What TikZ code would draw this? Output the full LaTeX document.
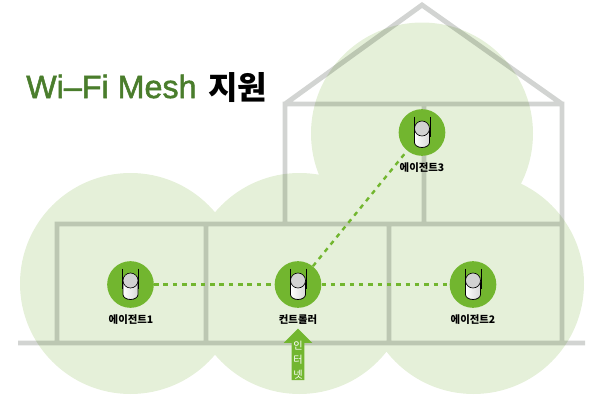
\documentclass[tikz,border=0pt]{standalone}
\usepackage{fontspec}
\setmainfont{Liberation Sans}
\newfontfamily\cjk{Noto Sans CJK KR}
\newfontfamily\titlefont[FakeBold=1.6]{Liberation Sans}
\usetikzlibrary{shapes.arrows}
\definecolor{zone}{HTML}{E5F0D9}
\definecolor{wall}{HTML}{D2D4D2}
\definecolor{mesh}{HTML}{72B62F}
\definecolor{titlegreen}{HTML}{4A7D2C}
\tikzset{
  device/.style={circle,fill=mesh,minimum size=35pt,inner sep=0pt},
  devlabel/.style={inner sep=0pt,font=\cjk\bfseries\fontsize{7.8}{9}\selectfont},
  link/.style={draw=mesh,line width=1.8pt,dash pattern=on 3.4pt off 3.6pt},
  repeater/.pic={
    \draw[black,line width=0.6pt,left color=white,right color=gray!30]
      (-7.5,-4) -- (-7.5,10) arc (180:0:7.5 and 5) -- (7.5,-4) -- cycle;
    \draw[black,line width=0.5pt,fill=gray!35] (0,-4) ellipse (7.5 and 7.5);
    \draw[black,line width=0.7pt] (-8,-16) -- (-8,4) (8,-16) -- (8,4);
  }
}
\begin{document}
\begin{tikzpicture}[x=0.75pt,y=-0.75pt]
\useasboundingbox (0,0) rectangle (600,400);
% coverage
\fill[zone] (130.5,283.5) circle (110.5) (299.5,283.5) circle (110.5)
  (473.5,283.5) circle (110.5) (422,133.5) circle (111);
% house
\draw[wall,line width=3.7pt,line join=miter,blend mode=multiply]
  (18,343) -- (585,343)
  (57,343) -- (57,224) -- (562,224)
  (206,224) -- (206,343) (389,224) -- (389,343)
  (562,343) -- (562,104) -- (285,104) -- (285,224)
  (424,104) -- (424,224)
  (285,104) -- (422,5) -- (562,104);
% devices
\node[device] (ctrl) at (298,284.5) {};
\node[device] (agent1) at (130.5,284.5) {};
\node[device] (agent2) at (473,284.5) {};
\node[device] (agent3) at (422,132.5) {};
\path[link] (agent1) -- (ctrl);
\path[link] (ctrl) -- (agent2);
\path[link] (ctrl) -- (agent3);
\pic at (ctrl) {repeater};
\pic at (agent1) {repeater};
\pic at (agent2) {repeater};
\pic at (agent3) {repeater};
\node[devlabel] (ctrllabel) at (298,320) {컨트롤러};
\node[devlabel] (agent1label) at (131,320) {에이전트1};
\node[devlabel] (agent2label) at (473,320) {에이전트2};
\node[devlabel] (agent3label) at (422,168) {에이전트3};
% internet
\node[single arrow,fill=mesh,rotate=90,inner sep=4.5pt,minimum width=21pt,minimum height=38.5pt,
  single arrow head extend=6pt,single arrow head indent=0pt] (inlet) at (298,357.5) {};
\node[text=white,align=center,inner sep=0pt,font=\cjk\fontsize{7.6}{10.9}\selectfont] (inlabel) at (298,360) {인\\터\\넷};
% title
\node[anchor=base west,inner sep=0pt] (title) at (26,98)
  {\fontsize{24.2}{28}\titlefont\color{titlegreen}Wi–Fi Mesh};
\node[anchor=base west,inner sep=0pt,font=\cjk\bfseries\fontsize{24}{28}\selectfont] (titlekr) at (208,99) {지원};
\end{tikzpicture}
\end{document}
